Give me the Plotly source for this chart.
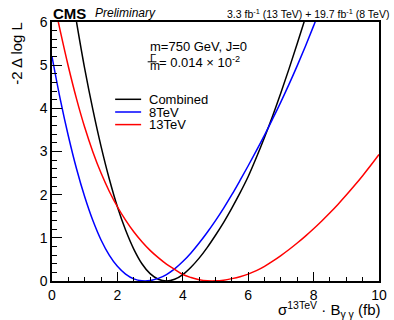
import plotly.graph_objects as go

# Combined
comb_x = [0.75, 1.0, 1.25, 1.5, 1.75, 2.0, 2.25, 2.5, 2.75, 3.0, 3.25, 3.5, 3.75, 4.0, 4.25, 4.5, 4.75,
          5.0, 5.25, 5.5, 5.75, 6.0, 6.25, 6.5, 6.75, 7.0, 7.25, 7.5, 7.75]
comb_y = [6.0, 4.92, 3.97, 3.12, 2.37, 1.72, 1.18, 0.74, 0.40, 0.17, 0.04, 0.0, 0.04, 0.15, 0.32, 0.53, 0.78,
          1.06, 1.36, 1.69, 2.04, 2.42, 2.86, 3.33, 3.83, 4.36, 4.92, 5.50, 6.10]
# 8TeV
b8_x = [0.0, 0.25, 0.5, 0.75, 1.0, 1.25, 1.5, 1.75, 2.0, 2.25, 2.5, 2.75, 3.0, 3.25, 3.5, 3.75,
        4.0, 4.25, 4.5, 4.75, 5.0, 5.25, 5.5, 5.75, 6.0, 6.25, 6.5, 6.75, 7.0, 7.25, 7.5, 7.75, 8.0, 8.25]
b8_y = [5.2, 4.22, 3.36, 2.6, 1.95, 1.4, 0.95, 0.6, 0.34, 0.16, 0.05, 0.005, 0.01, 0.06, 0.15, 0.28,
        0.45, 0.65, 0.88, 1.13, 1.4, 1.69, 2.0, 2.33, 2.67, 3.02, 3.38, 3.76, 4.15, 4.56, 4.99, 5.44, 5.91, 6.40]
# 13TeV
r13_x = [0.0, 0.25, 0.5, 0.75, 1.0, 1.25, 1.5, 1.75, 2.0, 2.25, 2.5, 2.75, 3.0, 3.25, 3.5, 3.75,
         4.0, 4.25, 4.5, 4.75, 5.0, 5.25, 5.5, 5.75, 6.0, 6.25, 6.5, 6.75, 7.0, 7.25, 7.5, 7.75,
         8.0, 8.25, 8.5, 8.75, 9.0, 9.25, 9.5, 9.75, 10.0]
r13_y = [6.68, 5.8, 4.97, 4.22, 3.56, 2.99, 2.5, 2.08, 1.72, 1.41, 1.14, 0.91, 0.71, 0.54, 0.39, 0.27,
         0.15, 0.08, 0.03, 0.005, 0.003, 0.02, 0.055, 0.1, 0.16, 0.24, 0.34, 0.46, 0.59, 0.73, 0.88, 1.04,
         1.21, 1.39, 1.58, 1.78, 1.99, 2.21, 2.44, 2.68, 2.93]

series = [("Combined", comb_x, comb_y, "black"),
          ("8TeV", b8_x, b8_y, "blue"),
          ("13TeV", r13_x, r13_y, "red")]

FONT = "Liberation Sans, Arial, Helvetica, sans-serif"

fig = go.Figure()
for name, xs, ys, col in series:
    fig.add_trace(go.Scatter(x=xs, y=ys, mode="lines", name=name,
                             line=dict(color=col, width=1.5, shape="spline", smoothing=1.0),
                             showlegend=False, cliponaxis=True))

# plot area mapping
L, R, T, B = 52, 387, 21.7, 280.7
W, H = 394, 320
def px2x(px):
    return (px - L) / (R - L) * 10
def py2y(py):
    return (B - py) / (B - T) * 6

shapes = []
annotations = []
legend_rows = [("Combined", "black", 99.0), ("8TeV", "blue", 111.7), ("13TeV", "red", 124.3)]
for name, col, py in legend_rows:
    shapes.append(dict(type="line", xref="x", yref="y",
                       x0=px2x(116.7), x1=px2x(143.3), y0=py2y(py), y1=py2y(py),
                       line=dict(color=col, width=1.5)))
    annotations.append(dict(x=px2x(149), y=py2y(py), xref="x", yref="y",
                            text=name, showarrow=False, xanchor="left", yanchor="middle",
                            font=dict(family=FONT, size=13, color="black")))

# Info text
annotations.append(dict(x=px2x(150), y=py2y(46.5), xref="x", yref="y",
                        text="m=750 GeV, J=0", showarrow=False, xanchor="left", yanchor="middle",
                        font=dict(family=FONT, size=13, color="black")))
annotations.append(dict(x=px2x(150.5), y=py2y(57.5), xref="x", yref="y",
                        text="Γ", showarrow=False, xanchor="left", yanchor="middle",
                        font=dict(family=FONT, size=11, color="black")))
annotations.append(dict(x=px2x(150), y=py2y(66), xref="x", yref="y",
                        text="m", showarrow=False, xanchor="left", yanchor="middle",
                        font=dict(family=FONT, size=12, color="black")))
shapes.append(dict(type="line", xref="x", yref="y",
                   x0=px2x(150), x1=px2x(159), y0=py2y(61.5), y1=py2y(61.5),
                   line=dict(color="black", width=1)))
annotations.append(dict(x=px2x(160), y=py2y(62), xref="x", yref="y",
                        text="= 0.014 × 10<sup>-2</sup>", showarrow=False, xanchor="left", yanchor="middle",
                        font=dict(family=FONT, size=13, color="black")))

# Header texts (paper coords)
def ppx(px):
    return (px - L) / (R - L)
def ppy(py):
    return (B - py) / (B - T)

annotations.append(dict(x=ppx(51), y=ppy(13), xref="paper", yref="paper",
                        text="<b>CMS</b>", showarrow=False, xanchor="left", yanchor="middle",
                        font=dict(family=FONT, size=15, color="black")))
annotations.append(dict(x=ppx(94), y=ppy(13), xref="paper", yref="paper",
                        text="<i>Preliminary</i>", showarrow=False, xanchor="left", yanchor="middle",
                        font=dict(family=FONT, size=12, color="black")))
annotations.append(dict(x=ppx(399), y=ppy(13), xref="paper", yref="paper",
                        text="3.3 fb<sup>-1</sup> (13 TeV) + 19.7 fb<sup>-1</sup> (8 TeV)",
                        showarrow=False, xanchor="right", yanchor="middle",
                        font=dict(family=FONT, size=10.5, color="black")))
# Axis titles
annotations.append(dict(x=ppx(16), y=ppy(19), xref="paper", yref="paper",
                        text="-2 Δ log L", textangle=-90, showarrow=False,
                        xanchor="center", yanchor="top",
                        font=dict(family=FONT, size=15, color="black")))
annotations.append(dict(x=ppx(390), y=ppy(309), xref="paper", yref="paper",
                        text="σ<sup>13TeV</sup> · B<sub>γ γ</sub> (fb)", showarrow=False,
                        xanchor="right", yanchor="middle",
                        font=dict(family=FONT, size=15, color="black")))

fig.update_layout(
    width=W, height=H,
    margin=dict(l=L, r=W - R, t=T, b=H - B, pad=0),
    paper_bgcolor="white", plot_bgcolor="white",
    font=dict(family=FONT, size=14, color="black"),
    shapes=shapes, annotations=annotations,
    showlegend=False,
)
fig.update_xaxes(range=[0, 10], showgrid=False, zeroline=False,
                 showline=True, linecolor="black", linewidth=1.5, mirror=True,
                 ticks="inside", ticklen=9, tickwidth=1, tickcolor="black",
                 tick0=0, dtick=2, tickfont=dict(family=FONT, size=14),
                 minor=dict(ticks="inside", ticklen=4.5, dtick=0.5, tickcolor="black", tickwidth=1))
fig.update_yaxes(range=[0, 6], showgrid=False, zeroline=False,
                 showline=True, linecolor="black", linewidth=1.5, mirror=True,
                 ticks="inside", ticklen=10, tickwidth=1, tickcolor="black",
                 tick0=0, dtick=1, tickfont=dict(family=FONT, size=14),
                 minor=dict(ticks="inside", ticklen=5, dtick=0.2, tickcolor="black", tickwidth=1))

fig.write_html("out.html")
